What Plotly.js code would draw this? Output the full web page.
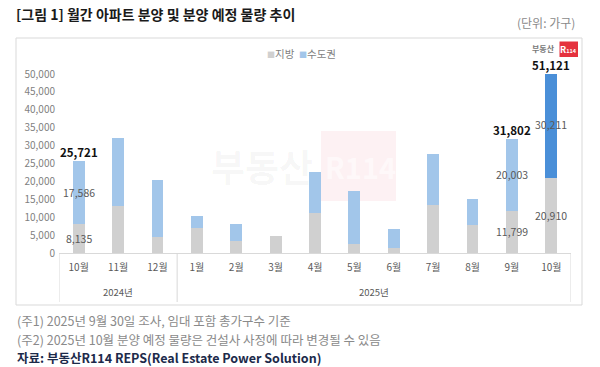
<!DOCTYPE html>
<html>
<head>
<meta charset="utf-8">
<script src="https://cdn.plot.ly/plotly-3.0.1.min.js"></script>
<style>
html,body{margin:0;padding:0;background:#fff;}
#chart{width:600px;height:367px;}
</style>
</head>
<body>
<div id="chart"></div>
<script>
// ---- data ----
const years = ['2024년','2024년','2024년','2025년','2025년','2025년','2025년','2025년','2025년','2025년','2025년','2025년','2025년'];
const months = ['10월','11월','12월','1월','2월','3월','4월','5월','6월','7월','8월','9월','10월'];
const regional = [8135, 13200, 4500, 6900, 3350, 4650, 11200, 2450, 1500, 13300, 7750, 11799, 20910];   // 지방
const capital  = [17586, 18800, 15900, 3400, 4700, 0, 11450, 14950, 5250, 14300, 7300, 20003, 30211];  // 수도권
const seriesNames = ['지방', '수도권'];
const labeledIdx = [0, 11, 12];   // bars that carry value labels
const highlightIdx = 12;          // planned month (darker)

const idx = months.map((_, i) => i);
const totals = regional.map((v, i) => v + capital[i]);

// ---- geometry helpers ----
const W = 600, H = 367;
const M = {l: 59, r: 29, t: 74, b: 114};
const pw = W - M.l - M.r, ph = H - M.t - M.b;
const px = x => (x - M.l) / pw;
const py = y => (H - M.b - y) / ph;
const YMAX = 50000;

const FONT = '"Noto Sans CJK KR", "Noto Sans", sans-serif';
const GRAY = '#d0d0d0';
const BLUE = '#a2c6ea';
const BLUE_DARK = '#4a8fd8';

const traces = [
  {
    type: 'bar', name: seriesNames[0],
    x: idx, y: regional, width: 0.3,
    marker: {color: GRAY},
    hoverinfo: 'skip'
  },
  {
    type: 'bar', name: seriesNames[1],
    x: idx, y: capital, width: 0.3,
    marker: {color: capital.map((_, i) => i === highlightIdx ? BLUE_DARK : BLUE)},
    hoverinfo: 'skip'
  }
];

const annotations = [];
labeledIdx.forEach(i => {
  annotations.push({
    x: i, y: Math.min(totals[i], YMAX), xref: 'x', yref: 'y',
    text: '<b>' + totals[i].toLocaleString('en-US') + '</b>',
    showarrow: false, yanchor: 'middle', yshift: 9,
    font: {family: FONT, size: 11.5, color: '#111'}
  });
  annotations.push({
    x: i, y: regional[i] / 2, xref: 'x', yref: 'y',
    text: regional[i].toLocaleString('en-US'),
    showarrow: false, yanchor: 'middle',
    font: {family: FONT, size: 10.5, color: '#595959'}
  });
  annotations.push({
    x: i, y: regional[i] + capital[i] / 2, xref: 'x', yref: 'y',
    text: capital[i].toLocaleString('en-US'),
    showarrow: false, yanchor: 'middle',
    font: {family: FONT, size: 10.5, color: '#595959'}
  });
});

// year group labels + dividers derived from the years array
const groups = [];
years.forEach((y, i) => {
  if (!groups.length || groups[groups.length - 1].name !== y) groups.push({name: y, start: i, end: i});
  else groups[groups.length - 1].end = i;
});
const shapes = [];
groups.forEach((g, k) => {
  annotations.push({
    x: (g.start + g.end) / 2, xref: 'x', y: py(292), yref: 'paper',
    text: g.name, showarrow: false, yanchor: 'middle',
    font: {family: FONT, size: 9.5, color: '#595959'}
  });
  const bounds = k === 0 ? [g.start - 0.5, g.end + 0.5] : [g.end + 0.5];
  bounds.forEach(b => shapes.push({
    type: 'line', xref: 'x', yref: 'paper', x0: b, x1: b, y0: 0, y1: py(302),
    line: {color: '#d9d9d9', width: 1}
  }));
});

// legend drawn as compact text
const legendColors = [GRAY, BLUE];
annotations.push({
  xref: 'paper', yref: 'paper', x: px(301), y: py(53), xanchor: 'center', yanchor: 'middle',
  showarrow: false,
  text: seriesNames.map((n, k) => '<span style="color:' + legendColors[k] + ';font-size:8px">■</span>' + n).join('  '),
  font: {family: FONT, size: 10.5, color: '#7f7f7f'}
});

// text outside the plot
annotations.push(
  {xref: 'paper', yref: 'paper', x: px(577), y: py(23), xanchor: 'right', yanchor: 'middle',
   text: '(단위: 가구)', showarrow: false, font: {family: FONT, size: 12, color: '#8a8a8a'}},
  {xref: 'paper', yref: 'paper', x: px(15), y: py(320.5), xanchor: 'left', yanchor: 'middle',
   text: '(주1) 2025년 9월 30일 조사, 임대 포함 총가구수 기준', showarrow: false,
   font: {family: FONT, size: 12.5, color: '#8a8a8a'}},
  {xref: 'paper', yref: 'paper', x: px(15), y: py(339), xanchor: 'left', yanchor: 'middle',
   text: '(주2) 2025년 10월 분양 예정 물량은 건설사 사정에 따라 변경될 수 있음', showarrow: false,
   font: {family: FONT, size: 12.5, color: '#8a8a8a'}},
  {xref: 'paper', yref: 'paper', x: px(15), y: py(357.5), xanchor: 'left', yanchor: 'middle',
   text: '<b>자료: 부동산R114 REPS(Real Estate Power Solution)</b>', showarrow: false,
   font: {family: FONT, size: 12.5, color: '#1c2a4a'}},
  // small logo
  {xref: 'paper', yref: 'paper', x: px(557), y: py(48), xanchor: 'right', yanchor: 'middle',
   text: '<b>부동산</b>', showarrow: false, font: {family: FONT, size: 8, color: '#777'}},
  {xref: 'paper', yref: 'paper', x: px(568.7), y: py(49), xanchor: 'center', yanchor: 'middle',
   text: '<b>R<span style="font-size:5.5px">114</span></b>', showarrow: false, font: {family: FONT, size: 9, color: '#fff'}},
  // watermark
  {xref: 'paper', yref: 'paper', x: px(262), y: py(166), xanchor: 'center', yanchor: 'middle',
   text: '<b>부동산</b>', showarrow: false, font: {family: FONT, size: 37, color: 'rgba(0,0,0,0.04)'}},
  {xref: 'paper', yref: 'paper', x: px(360), y: py(166), xanchor: 'center', yanchor: 'middle',
   text: '<b>R114</b>', showarrow: false, font: {family: FONT, size: 29, color: 'rgba(255,255,255,0.55)'}}
);

shapes.push(
  {type: 'rect', xref: 'paper', yref: 'paper', x0: px(16), x1: px(582), y0: py(305), y1: py(38),
   line: {color: '#d9d9d9', width: 1}, fillcolor: 'rgba(0,0,0,0)', layer: 'below'},
  {type: 'rect', xref: 'paper', yref: 'paper', x0: px(321), x1: px(396), y0: py(201), y1: py(131),
   line: {width: 0}, fillcolor: 'rgba(232,60,80,0.07)', layer: 'below'},
  {type: 'rect', xref: 'paper', yref: 'paper', x0: px(559.5), x1: px(578), y0: py(57), y1: py(41.5),
   line: {width: 0}, fillcolor: '#e5323e', layer: 'above'}
);

const layout = {
  width: W, height: H,
  margin: M,
  paper_bgcolor: '#fff', plot_bgcolor: 'rgba(0,0,0,0)',
  barmode: 'stack',
  font: {family: FONT, color: '#595959'},
  title: {
    text: '<b>[그림 1] 월간 아파트 분양 및 분양 예정 물량 추이</b>',
    x: 16 / W, xanchor: 'left', xref: 'container',
    y: 1 - 15 / H, yanchor: 'middle', yref: 'container',
    font: {family: FONT, size: 14, color: '#1a1a1a'}
  },
  showlegend: false,
  xaxis: {
    range: [-0.5, months.length - 0.5],
    tickmode: 'array', tickvals: idx, ticktext: months,
    showline: true, linecolor: '#d9d9d9', linewidth: 1,
    ticks: '', showgrid: false, zeroline: false, ticklabelstandoff: 5,
    tickfont: {family: FONT, size: 10, color: '#595959'}
  },
  yaxis: {
    range: [0, YMAX], dtick: 5000, tickformat: ',',
    showgrid: false, zeroline: false, showline: false, ticks: '', ticklabelstandoff: 3,
    tickfont: {family: FONT, size: 10, color: '#7f7f7f'}
  },
  annotations: annotations,
  shapes: shapes
};

Plotly.newPlot('chart', traces, layout, {displayModeBar: false, staticPlot: true});
</script>
</body>
</html>
